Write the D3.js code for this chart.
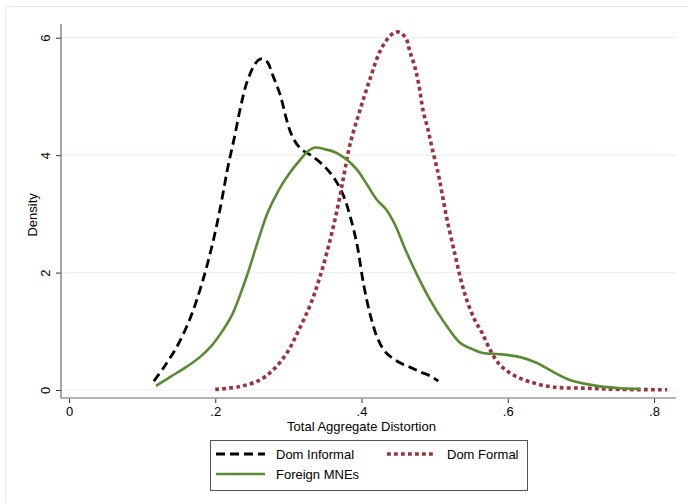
<!DOCTYPE html>
<html>
<head>
<meta charset="utf-8">
<script src="https://cdn.jsdelivr.net/npm/d3@7"></script>
<style>
  body { margin: 0; background: #fff; }
  svg text { font-family: "Liberation Sans", Arial, sans-serif; fill: #000; }
</style>
</head>
<body>
<div id="chart"></div>
<script>
// ---- data ----
const informalX = [0.116, 0.131, 0.149, 0.166, 0.179, 0.190, 0.200, 0.209, 0.217, 0.226, 0.235, 0.243, 0.252, 0.259, 0.264, 0.271, 0.279, 0.289, 0.297, 0.305, 0.316, 0.334, 0.350, 0.364, 0.375, 0.384, 0.394, 0.403, 0.413, 0.423, 0.434, 0.450, 0.466, 0.480, 0.494, 0.505];
const informalY = [0.15, 0.41, 0.77, 1.23, 1.70, 2.18, 2.69, 3.24, 3.78, 4.29, 4.84, 5.23, 5.50, 5.62, 5.64, 5.59, 5.35, 5.02, 4.63, 4.33, 4.12, 3.97, 3.80, 3.58, 3.32, 2.98, 2.47, 1.79, 1.23, 0.85, 0.63, 0.48, 0.39, 0.31, 0.24, 0.15];

const formalX = [0.200, 0.234, 0.261, 0.279, 0.298, 0.313, 0.330, 0.343, 0.357, 0.368, 0.376, 0.384, 0.398, 0.412, 0.425, 0.439, 0.449, 0.460, 0.466, 0.473, 0.479, 0.484, 0.491, 0.498, 0.505, 0.510, 0.517, 0.528, 0.536, 0.544, 0.555, 0.565, 0.576, 0.589, 0.607, 0.630, 0.662, 0.708, 0.754, 0.818];
const formalY = [0.01, 0.06, 0.17, 0.34, 0.63, 0.99, 1.45, 1.92, 2.55, 3.15, 3.66, 4.17, 4.77, 5.31, 5.76, 6.03, 6.10, 6.01, 5.77, 5.50, 5.16, 4.77, 4.43, 4.04, 3.68, 3.36, 2.90, 2.30, 1.87, 1.53, 1.19, 0.97, 0.68, 0.43, 0.26, 0.14, 0.05, 0.03, 0.01, 0.005];

const mneX = [0.119, 0.138, 0.159, 0.179, 0.196, 0.209, 0.223, 0.234, 0.245, 0.259, 0.272, 0.287, 0.302, 0.316, 0.327, 0.336, 0.350, 0.364, 0.380, 0.394, 0.408, 0.421, 0.434, 0.446, 0.459, 0.476, 0.494, 0.511, 0.535, 0.551, 0.566, 0.589, 0.617, 0.640, 0.662, 0.685, 0.722, 0.754, 0.781];
const mneY = [0.07, 0.22, 0.38, 0.56, 0.77, 0.99, 1.28, 1.62, 2.01, 2.56, 3.03, 3.41, 3.70, 3.92, 4.07, 4.13, 4.10, 4.05, 3.92, 3.75, 3.49, 3.24, 3.07, 2.81, 2.42, 1.96, 1.53, 1.19, 0.80, 0.70, 0.63, 0.61, 0.56, 0.46, 0.31, 0.17, 0.07, 0.03, 0.02];

const xTicks = [0, 0.2, 0.4, 0.6, 0.8];
const xTickLabels = ["0", ".2", ".4", ".6", ".8"];
const yTicks = [0, 2, 4, 6];

const series = [
    { name: "Dom Informal", xs: informalX, ys: informalY, color: "#000000", width: 2.8, dash: "9,5" },
    { name: "Dom Formal", xs: formalX, ys: formalY, color: "#983440", width: 3.6, dash: "3.8,3.2" },
    { name: "Foreign MNEs", xs: mneX, ys: mneY, color: "#5a8a33", width: 2.6, dash: null }
];

const drawDensity = () => {
    const width = 688;
    const height = 503;

    // 軸的範圍 (axis line extends a bit beyond the ticks)
    const plot = { left: 61, right: 676, top: 24, bottom: 398 };

    const xScale = d3.scaleLinear().domain([0, 0.8]).range([69, 654]);
    const yScale = d3.scaleLinear().domain([0, 6]).range([390, 37.7]);

    const svg = d3.select("#chart")
        .append("svg")
        .attr("width", width)
        .attr("height", height);

    // outer frame
    svg.append("rect")
        .attr("x", 5.5)
        .attr("y", 6.5)
        .attr("width", 720)
        .attr("height", 540)
        .attr("rx", 3)
        .attr("fill", "#fff")
        .attr("stroke", "#e2eaec")
        .attr("stroke-width", 1);

    // gridlines
    svg.append("g")
        .selectAll("line")
        .data(yTicks)
        .enter()
        .append("line")
        .attr("x1", plot.left)
        .attr("x2", plot.right)
        .attr("y1", d => yScale(d))
        .attr("y2", d => yScale(d))
        .attr("stroke", "#eaf1f2")
        .attr("stroke-width", 1.2);

    // y 軸
    const yAxis = svg.append("g")
        .attr("transform", `translate(${plot.left}, 0)`)
        .call(d3.axisLeft(yScale).tickValues(yTicks).tickSize(5).tickSizeOuter(0).tickFormat(d3.format("d")));
    yAxis.select(".domain").remove();
    yAxis.append("line")
        .attr("y1", plot.top)
        .attr("y2", plot.bottom)
        .attr("stroke", "#6b6b6b")
        .attr("stroke-width", 1.2);
    yAxis.selectAll(".tick line").attr("stroke", "#333");
    yAxis.selectAll(".tick text")
        .attr("x", 0)
        .attr("dy", 0)
        .attr("transform", "translate(-11,0) rotate(-90)")
        .style("text-anchor", "middle")
        .style("font-size", "13px");

    // x 軸
    const xAxis = svg.append("g")
        .attr("transform", `translate(0, ${plot.bottom})`)
        .call(d3.axisBottom(xScale).tickValues(xTicks).tickSize(5).tickSizeOuter(0).tickFormat((d, i) => xTickLabels[i]));
    xAxis.select(".domain").remove();
    xAxis.append("line")
        .attr("x1", plot.left)
        .attr("x2", plot.right)
        .attr("stroke", "#9a9a9a")
        .attr("stroke-width", 1.6);
    xAxis.selectAll(".tick line").attr("stroke", "#333");
    xAxis.selectAll(".tick text")
        .attr("y", 9)
        .attr("dy", "0.71em")
        .style("font-size", "13px");

    // axis titles
    svg.append("text")
        .attr("x", xScale(0.4))
        .attr("y", 431)
        .attr("text-anchor", "middle")
        .style("font-size", "13px")
        .text("Total Aggregate Distortion");

    svg.append("text")
        .attr("transform", `translate(37, ${yScale(3) + 1}) rotate(-90)`)
        .attr("text-anchor", "middle")
        .style("font-size", "13px")
        .text("Density");

    // density curves
    const line = d3.line()
        .x(d => xScale(d[0]))
        .y(d => yScale(d[1]))
        .curve(d3.curveCatmullRom.alpha(0.5));

    series.forEach(s => {
        const pts = s.xs.map((x, i) => [x, s.ys[i]]);
        svg.append("path")
            .datum(pts)
            .attr("d", line)
            .attr("fill", "none")
            .attr("stroke", s.color)
            .attr("stroke-width", s.width)
            .attr("stroke-dasharray", s.dash)
            .attr("stroke-linejoin", "round");
    });

    // 圖例
    const legend = svg.append("g");
    legend.append("rect")
        .attr("x", 210.5)
        .attr("y", 440.5)
        .attr("width", 317)
        .attr("height", 50)
        .attr("fill", "#fff")
        .attr("stroke", "#555")
        .attr("stroke-width", 1);

    const legendPos = [
        { x: 216, y: 454 },
        { x: 387, y: 454 },
        { x: 216, y: 474 }
    ];
    series.forEach((s, i) => {
        const p = legendPos[i];
        legend.append("line")
            .attr("x1", p.x)
            .attr("x2", p.x + 49)
            .attr("y1", p.y)
            .attr("y2", p.y)
            .attr("stroke", s.color)
            .attr("stroke-width", s.width)
            .attr("stroke-dasharray", s.dash);
        legend.append("text")
            .attr("x", p.x + 60)
            .attr("y", p.y)
            .attr("dy", "0.35em")
            .style("font-size", "13px")
            .text(s.name);
    });
};

drawDensity();
</script>
</body>
</html>
